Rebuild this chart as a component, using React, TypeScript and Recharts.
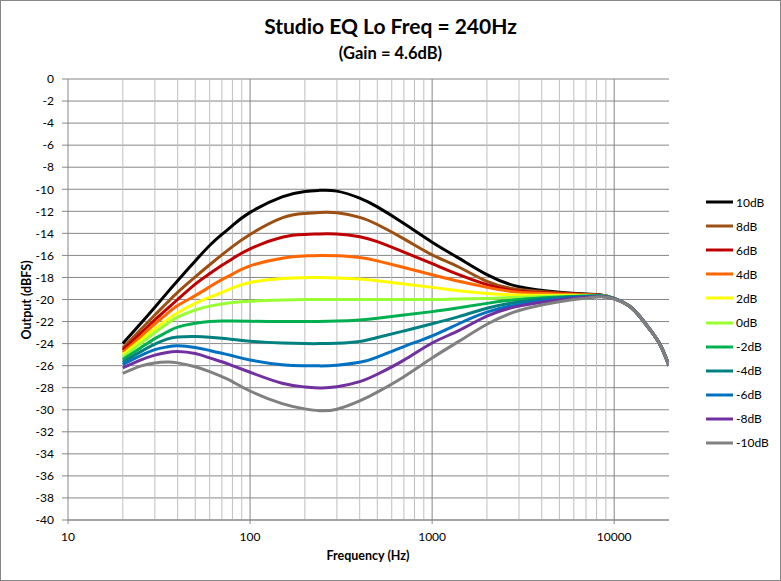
import React from 'react';
import { LineChart, Line, XAxis, YAxis, CartesianGrid, ReferenceLine, Legend } from 'recharts';

const freqs = [20, 25, 30, 35, 40, 50, 60, 70, 80, 100, 150, 200, 240, 300, 400, 500, 700, 1000, 1400, 2000, 3000, 5000, 7000, 8500, 10000, 12000, 14000, 16000, 18000, 20000];

const g10 = [-24.0, -22.2, -20.7, -19.4, -18.3, -16.5, -15.1, -14.1, -13.3, -12.1, -10.7, -10.2, -10.1, -10.17, -10.8, -11.6, -13.1, -14.8, -16.25, -17.75, -18.85, -19.35, -19.5, -19.6, -19.9, -20.55, -21.65, -22.9, -24.2, -26.0];
const g8 = [-24.4, -22.75, -21.4, -20.3, -19.35, -17.95, -16.85, -15.95, -15.2, -14.1, -12.6, -12.2, -12.1, -12.13, -12.55, -13.2, -14.5, -15.95, -17.05, -18.35, -19.1, -19.4, -19.55, -19.62, -19.9, -20.55, -21.65, -22.9, -24.2, -26.0];
const g6 = [-24.6, -23.1, -21.85, -20.85, -20.0, -18.6, -17.65, -16.9, -16.3, -15.4, -14.35, -14.1, -14.05, -14.06, -14.3, -14.75, -15.7, -16.75, -17.75, -18.65, -19.25, -19.45, -19.55, -19.63, -19.9, -20.55, -21.65, -22.9, -24.2, -26.0];
const g4 = [-24.8, -23.4, -22.2, -21.3, -20.55, -19.65, -18.85, -18.2, -17.7, -16.95, -16.25, -16.05, -16.0, -16.04, -16.2, -16.5, -17.1, -17.75, -18.35, -18.9, -19.35, -19.5, -19.6, -19.64, -19.9, -20.55, -21.65, -22.9, -24.2, -26.0];
const g2 = [-25.0, -23.7, -22.65, -21.85, -21.2, -20.35, -19.8, -19.35, -18.95, -18.45, -18.1, -18.02, -18.0, -18.04, -18.15, -18.3, -18.6, -18.9, -19.2, -19.45, -19.6, -19.62, -19.62, -19.65, -19.9, -20.55, -21.65, -22.9, -24.2, -26.0];
const g0 = [-25.2, -24.0, -23.0, -22.2, -21.6, -20.95, -20.6, -20.4, -20.28, -20.15, -20.05, -20.0, -20.0, -20.0, -20.0, -20.0, -20.0, -20.0, -19.95, -19.9, -19.8, -19.7, -19.65, -19.66, -19.9, -20.55, -21.65, -22.9, -24.2, -26.0];
const gm2 = [-25.45, -24.4, -23.55, -22.95, -22.5, -22.15, -22.0, -21.95, -21.95, -21.98, -22.0, -22.0, -22.0, -21.96, -21.85, -21.7, -21.4, -21.1, -20.75, -20.35, -20.0, -19.78, -19.68, -19.67, -19.9, -20.55, -21.65, -22.9, -24.2, -26.0];
const gm4 = [-25.7, -24.75, -24.05, -23.6, -23.4, -23.35, -23.42, -23.52, -23.62, -23.78, -23.95, -24.0, -24.0, -23.96, -23.8, -23.45, -22.85, -22.2, -21.55, -20.8, -20.22, -19.85, -19.72, -19.68, -19.9, -20.55, -21.65, -22.9, -24.2, -26.0];
const gm6 = [-25.9, -25.1, -24.55, -24.3, -24.2, -24.35, -24.62, -24.88, -25.1, -25.48, -25.92, -26.0, -26.02, -25.96, -25.7, -25.22, -24.27, -23.3, -22.2, -21.15, -20.45, -19.95, -19.76, -19.7, -19.92, -20.55, -21.65, -22.9, -24.2, -26.0];
const gm8 = [-26.2, -25.5, -25.05, -24.8, -24.72, -24.9, -25.3, -25.65, -26.0, -26.6, -27.6, -27.93, -28.02, -27.92, -27.45, -26.78, -25.5, -23.95, -22.82, -21.5, -20.6, -20.05, -19.8, -19.72, -19.93, -20.55, -21.65, -22.9, -24.2, -26.0];
const gm10 = [-26.7, -26.05, -25.75, -25.68, -25.75, -26.1, -26.55, -27.0, -27.45, -28.3, -29.45, -29.92, -30.08, -29.95, -29.2, -28.4, -27.0, -25.3, -23.8, -22.25, -21.0, -20.2, -19.88, -19.75, -19.95, -20.55, -21.65, -22.9, -24.2, -26.0];

const seriesNames = ['10dB', '8dB', '6dB', '4dB', '2dB', '0dB', '-2dB', '-4dB', '-6dB', '-8dB', '-10dB'];
const seriesValues = [g10, g8, g6, g4, g2, g0, gm2, gm4, gm6, gm8, gm10];
const seriesColors = ['#000000', '#9C4F12', '#C00000', '#FF6600', '#FFFF00', '#99FF33', '#00B050', '#008080', '#0070C0', '#7030A0', '#808080'];

const yTicks = [0, -2, -4, -6, -8, -10, -12, -14, -16, -18, -20, -22, -24, -26, -28, -30, -32, -34, -36, -38, -40];
const xTicks = [10, 100, 1000, 10000];
const minorFreqs = [20, 30, 40, 50, 60, 70, 80, 90, 200, 300, 400, 500, 600, 700, 800, 900, 2000, 3000, 4000, 5000, 6000, 7000, 8000, 9000];
const majorFreqs = [100, 1000, 10000];

const data = freqs.map((f, i) => {
  const row: Record<string, number> = { f };
  seriesNames.forEach((n, k) => {
    row[n] = seriesValues[k][i];
  });
  return row;
});

const FONT = 'Lato, "Open Sans", sans-serif';

const LegendContent = () => (
  <div style={{ fontFamily: FONT, fontSize: 12, color: '#000' }}>
    {seriesNames.map((n, k) => (
      <div key={n} style={{ height: 24.1, display: 'flex', alignItems: 'center' }}>
        <svg width={27} height={6} style={{ display: 'block' }}>
          <line x1={0} y1={3} x2={27} y2={3} stroke={seriesColors[k]} strokeWidth={3} />
        </svg>
        <span style={{ marginLeft: 3 }}>{n}</span>
      </div>
    ))}
  </div>
);

export default function App() {
  return (
    <div
      style={{
        position: 'absolute',
        left: 0,
        top: 0,
        width: 781,
        height: 581,
        background: '#fff',
        boxSizing: 'border-box',
        border: '1px solid #868686',
        fontFamily: FONT,
      }}
    >
      <div style={{ position: 'absolute', left: 0, top: 0, width: 779, height: 579 }}>
        <LineChart width={779} height={579} data={data} margin={{ top: 78, right: 111, bottom: 30, left: 26 }}>
          <CartesianGrid horizontal={true} vertical={false} stroke="#868686" strokeWidth={1} />
          {minorFreqs.map((f) => (
            <ReferenceLine key={'m' + f} x={f} stroke="#BFBFBF" strokeWidth={1} />
          ))}
          {majorFreqs.map((f) => (
            <ReferenceLine key={'M' + f} x={f} stroke="#868686" strokeWidth={1} />
          ))}
          <XAxis
            dataKey="f"
            type="number"
            scale="log"
            domain={[10, 20000]}
            ticks={xTicks}
            allowDataOverflow
            height={30}
            tickSize={4}
            tickMargin={8}
            axisLine={{ stroke: '#868686' }}
            tickLine={{ stroke: '#868686' }}
            tick={{ fill: '#000', fontSize: 12, fontFamily: FONT }}
            interval={0}
          />
          <YAxis
            type="number"
            domain={[-40, 0]}
            ticks={yTicks}
            width={41}
            tickSize={6}
            tickMargin={8}
            axisLine={{ stroke: '#868686' }}
            tickLine={{ stroke: '#868686' }}
            tick={{ fill: '#000', fontSize: 12, fontFamily: FONT }}
            interval={0}
          />
          <Legend
            layout="horizontal"
            align="center"
            verticalAlign="middle"
            content={<LegendContent />}
            wrapperStyle={{ position: 'absolute', left: 705, top: 189, width: 70, height: 270 }}
          />
          {seriesNames.map((n, k) => (
            <Line
              key={n}
              dataKey={n}
              type="natural"
              stroke={seriesColors[k]}
              strokeWidth={3}
              dot={false}
              activeDot={false}
              isAnimationActive={false}
            />
          ))}
        </LineChart>
      </div>
      <div style={{ position: 'absolute', left: 0, width: 779, top: 12, textAlign: 'center', fontSize: 21, fontWeight: 700, lineHeight: '26px' }}>
        Studio EQ Lo Freq = 240Hz
      </div>
      <div style={{ position: 'absolute', left: 0, width: 779, top: 42, textAlign: 'center', fontSize: 16.5, fontWeight: 700, lineHeight: '20px' }}>
        (Gain = 4.6dB)
      </div>
      <div style={{ position: 'absolute', left: 267, width: 200, top: 547, textAlign: 'center', fontSize: 12.5, fontWeight: 700, lineHeight: '16px' }}>
        Frequency (Hz)
      </div>
      <div
        style={{
          position: 'absolute',
          left: 26 - 100,
          top: 299 - 8,
          width: 200,
          textAlign: 'center',
          fontSize: 12.5,
          fontWeight: 700,
          lineHeight: '16px',
          transform: 'rotate(-90deg)',
        }}
      >
        Output (dBFS)
      </div>
    </div>
  );
}
